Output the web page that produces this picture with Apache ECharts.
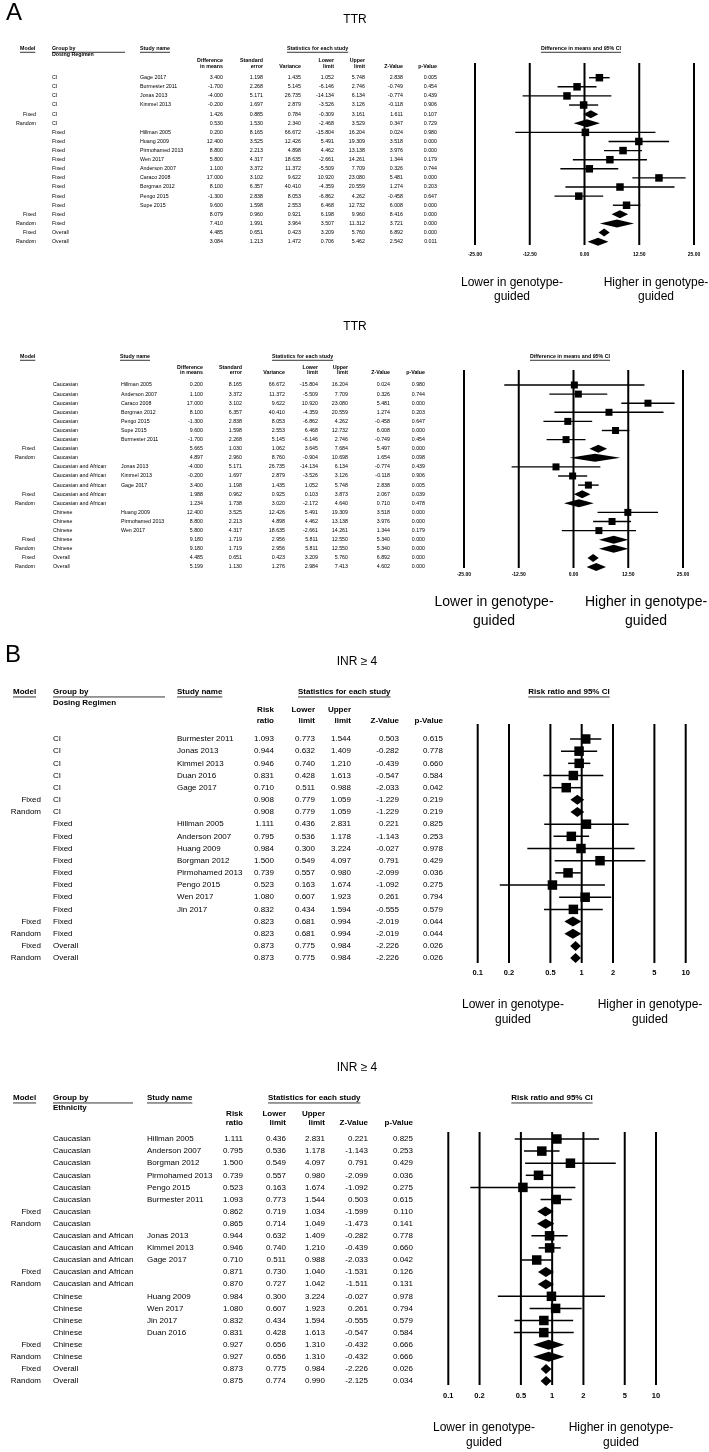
<!DOCTYPE html>
<html><head><meta charset="utf-8">
<script src="https://cdn.jsdelivr.net/npm/echarts@6/dist/echarts.min.js"></script>
<style>html,body{margin:0;padding:0;background:#fff}#c{width:709px;height:1452px}</style>
</head><body><div id="c"></div>
<script>
// ---------------- DATA ----------------
// Panel A, top: TTR grouped by dosing regimen
const ttrDoseModel = ['','','','','Fixed','Random','','','','','','','','','','Fixed','Random','Fixed','Random'];
const ttrDoseGroup = ['CI','CI','CI','CI','CI','CI','Fixed','Fixed','Fixed','Fixed','Fixed','Fixed','Fixed','Fixed','Fixed','Fixed','Fixed','Overall','Overall'];
const ttrDoseStudy = ['Gage 2017','Burmester 2011','Jonas 2013','Kimmel 2013','','','Hillman 2005','Huang 2009','Pirmohamed 2013','Wen 2017','Anderson 2007','Caraco 2008','Borgman 2012','Pengo 2015','Supe 2015','','','',''];
const ttrDoseDiff = [3.400,-1.700,-4.000,-0.200,1.426,0.530,0.200,12.400,8.800,5.800,1.100,17.000,8.100,-1.300,9.600,8.079,7.410,4.485,3.084];
const ttrDoseSE = [1.198,2.268,5.171,1.697,0.885,1.530,8.165,3.525,2.213,4.317,3.372,3.102,6.357,2.838,1.598,0.960,1.991,0.651,1.213];
const ttrDoseVar = [1.435,5.145,26.735,2.879,0.784,2.340,66.672,12.426,4.898,18.635,11.372,9.622,40.410,8.053,2.553,0.921,3.964,0.423,1.472];
const ttrDoseLower = [1.052,-6.146,-14.134,-3.526,-0.309,-2.468,-15.804,5.491,4.462,-2.661,-5.509,10.920,-4.359,-6.862,6.468,6.198,3.507,3.209,0.706];
const ttrDoseUpper = [5.748,2.746,6.134,3.126,3.161,3.529,16.204,19.309,13.138,14.261,7.709,23.080,20.559,4.262,12.732,9.960,11.312,5.760,5.462];
const ttrDoseZ = [2.838,-0.749,-0.774,-0.118,1.611,0.347,0.024,3.518,3.976,1.344,0.326,5.481,1.274,-0.458,6.008,8.416,3.721,6.892,2.542];
const ttrDoseP = [0.005,0.454,0.439,0.906,0.107,0.729,0.980,0.000,0.000,0.179,0.744,0.000,0.203,0.647,0.000,0.000,0.000,0.000,0.011];

// Panel A, bottom: TTR grouped by ethnicity
const ttrEthModel = ['','','','','','','','Fixed','Random','','','','Fixed','Random','','','','Fixed','Random','Fixed','Random'];
const ttrEthGroup = ['Caucasian','Caucasian','Caucasian','Caucasian','Caucasian','Caucasian','Caucasian','Caucasian','Caucasian','Caucasian and African','Caucasian and African','Caucasian and African','Caucasian and African','Caucasian and African','Chinese','Chinese','Chinese','Chinese','Chinese','Overall','Overall'];
const ttrEthStudy = ['Hillman 2005','Anderson 2007','Caraco 2008','Borgman 2012','Pengo 2015','Supe 2015','Burmester 2011','','','Jonas 2013','Kimmel 2013','Gage 2017','','','Huang 2009','Pirmohamed 2013','Wen 2017','','','',''];
const ttrEthDiff = [0.200,1.100,17.000,8.100,-1.300,9.600,-1.700,5.665,4.897,-4.000,-0.200,3.400,1.988,1.234,12.400,8.800,5.800,9.180,9.180,4.485,5.199];
const ttrEthSE = [8.165,3.372,3.102,6.357,2.838,1.598,2.268,1.030,2.960,5.171,1.697,1.198,0.962,1.738,3.525,2.213,4.317,1.719,1.719,0.651,1.130];
const ttrEthVar = [66.672,11.372,9.622,40.410,8.053,2.553,5.145,1.062,8.760,26.735,2.879,1.435,0.925,3.020,12.426,4.898,18.635,2.956,2.956,0.423,1.276];
const ttrEthLower = [-15.804,-5.509,10.920,-4.359,-6.862,6.468,-6.146,3.645,-0.904,-14.134,-3.526,1.052,0.103,-2.172,5.491,4.462,-2.661,5.811,5.811,3.209,2.984];
const ttrEthUpper = [16.204,7.709,23.080,20.559,4.262,12.732,2.746,7.684,10.698,6.134,3.126,5.748,3.873,4.640,19.309,13.138,14.261,12.550,12.550,5.760,7.413];
const ttrEthZ = [0.024,0.326,5.481,1.274,-0.458,6.008,-0.749,5.497,1.654,-0.774,-0.118,2.838,2.067,0.710,3.518,3.976,1.344,5.340,5.340,6.892,4.602];
const ttrEthP = [0.980,0.744,0.000,0.203,0.647,0.000,0.454,0.000,0.098,0.439,0.906,0.005,0.039,0.478,0.000,0.000,0.179,0.000,0.000,0.000,0.000];

// Panel B, top: INR >= 4 grouped by dosing regimen
const inrDoseModel = ['','','','','','Fixed','Random','','','','','','','','','Fixed','Random','Fixed','Random'];
const inrDoseGroup = ['CI','CI','CI','CI','CI','CI','CI','Fixed','Fixed','Fixed','Fixed','Fixed','Fixed','Fixed','Fixed','Fixed','Fixed','Overall','Overall'];
const inrDoseStudy = ['Burmester 2011','Jonas 2013','Kimmel 2013','Duan 2016','Gage 2017','','','Hillman 2005','Anderson 2007','Huang 2009','Borgman 2012','Pirmohamed 2013','Pengo 2015','Wen 2017','Jin 2017','','','',''];
const inrDoseRR = [1.093,0.944,0.946,0.831,0.710,0.908,0.908,1.111,0.795,0.984,1.500,0.739,0.523,1.080,0.832,0.823,0.823,0.873,0.873];
const inrDoseLower = [0.773,0.632,0.740,0.428,0.511,0.779,0.779,0.436,0.536,0.300,0.549,0.557,0.163,0.607,0.434,0.681,0.681,0.775,0.775];
const inrDoseUpper = [1.544,1.409,1.210,1.613,0.988,1.059,1.059,2.831,1.178,3.224,4.097,0.980,1.674,1.923,1.594,0.994,0.994,0.984,0.984];
const inrDoseZ = [0.503,-0.282,-0.439,-0.547,-2.033,-1.229,-1.229,0.221,-1.143,-0.027,0.791,-2.099,-1.092,0.261,-0.555,-2.019,-2.019,-2.226,-2.226];
const inrDoseP = [0.615,0.778,0.660,0.584,0.042,0.219,0.219,0.825,0.253,0.978,0.429,0.036,0.275,0.794,0.579,0.044,0.044,0.026,0.026];

// Panel B, bottom: INR >= 4 grouped by ethnicity
const inrEthModel = ['','','','','','','Fixed','Random','','','','Fixed','Random','','','','','Fixed','Random','Fixed','Random'];
const inrEthGroup = ['Caucasian','Caucasian','Caucasian','Caucasian','Caucasian','Caucasian','Caucasian','Caucasian','Caucasian and African','Caucasian and African','Caucasian and African','Caucasian and African','Caucasian and African','Chinese','Chinese','Chinese','Chinese','Chinese','Chinese','Overall','Overall'];
const inrEthStudy = ['Hillman 2005','Anderson 2007','Borgman 2012','Pirmohamed 2013','Pengo 2015','Burmester 2011','','','Jonas 2013','Kimmel 2013','Gage 2017','','','Huang 2009','Wen 2017','Jin 2017','Duan 2016','','','',''];
const inrEthRR = [1.111,0.795,1.500,0.739,0.523,1.093,0.862,0.865,0.944,0.946,0.710,0.871,0.870,0.984,1.080,0.832,0.831,0.927,0.927,0.873,0.875];
const inrEthLower = [0.436,0.536,0.549,0.557,0.163,0.773,0.719,0.714,0.632,0.740,0.511,0.730,0.727,0.300,0.607,0.434,0.428,0.656,0.656,0.775,0.774];
const inrEthUpper = [2.831,1.178,4.097,0.980,1.674,1.544,1.034,1.049,1.409,1.210,0.988,1.040,1.042,3.224,1.923,1.594,1.613,1.310,1.310,0.984,0.990];
const inrEthZ = [0.221,-1.143,0.791,-2.099,-1.092,0.503,-1.599,-1.473,-0.282,-0.439,-2.033,-1.531,-1.511,-0.027,0.261,-0.555,-0.547,-0.432,-0.432,-2.226,-2.125];
const inrEthP = [0.825,0.253,0.429,0.036,0.275,0.615,0.110,0.141,0.778,0.660,0.042,0.126,0.131,0.978,0.794,0.579,0.584,0.666,0.666,0.026,0.034];

// Axis tick labels
const ttrTicks = [-25, -12.5, 0, 12.5, 25];
const inrTicks = [0.1, 0.2, 0.5, 1, 2, 5, 10];

// Column headers
const ttrColHeads = [['Difference','in means'],['Standard','error'],['','Variance'],['Lower','limit'],['Upper','limit'],['','Z-Value'],['','p-Value']];
const inrColHeads = [['Risk','ratio'],['Lower','limit'],['Upper','limit'],['','Z-Value'],['','p-Value']];

// ---------------- LAYOUT ----------------
const FONT = '"Liberation Sans", Arial, Helvetica, sans-serif';

const panels = [
  { log:false, ticks:ttrTicks, ciHead:'Difference in means and 95% CI', colHeads:ttrColHeads, title:'TTR', letter:'A',
    groupHead:'Dosing Regimen', model:ttrDoseModel, group:ttrDoseGroup, study:ttrDoseStudy,
    point:ttrDoseDiff, lower:ttrDoseLower, upper:ttrDoseUpper,
    cols:[ttrDoseDiff, ttrDoseSE, ttrDoseVar, ttrDoseLower, ttrDoseUpper, ttrDoseZ, ttrDoseP],
    lay:{ x0:475, x1:694, lineTop:63, lineBottom:245, rowTop:77.7, rowStep:9.11, fs:5.3,
      modelR:36, groupL:52, studyL:140, colR:[223,263,301,334,365,403,437],
      hdrY:49, hdr2Y:55, sub1Y:61, sub2Y:67, modelHX:20, groupHX:52, groupUlEnd:125, studyHX:140, statsHX:287,
      ciHX:581, titleX:355, titleY:20, letterX:6, letterY:13,
      axFs:5, axMargin:7.5, sq:7.5, diaH:8, ciW:1.4, vW:2,
      noteLX:512, noteHX:656, noteY1:283, noteY2:297, noteFs:12 } },
  { log:false, ticks:ttrTicks, ciHead:'Difference in means and 95% CI', colHeads:ttrColHeads, title:'TTR',
    groupHead:null, model:ttrEthModel, group:ttrEthGroup, study:ttrEthStudy,
    point:ttrEthDiff, lower:ttrEthLower, upper:ttrEthUpper,
    cols:[ttrEthDiff, ttrEthSE, ttrEthVar, ttrEthLower, ttrEthUpper, ttrEthZ, ttrEthP],
    lay:{ x0:464, x1:683, lineTop:370, lineBottom:568, rowTop:385, rowStep:9.1, fs:5.3,
      modelR:35, groupL:53, studyL:121, colR:[203,242,285,318,348,390,425],
      hdrY:357, sub1Y:367.5, sub2Y:373, modelHX:20, studyHX:120, statsHX:272,
      ciHX:570, titleX:355, titleY:327,
      axFs:5, axMargin:4.5, sq:7, diaH:8, ciW:1.4, vW:2,
      noteLX:494, noteHX:646, noteY1:602, noteY2:621, noteFs:14 } },
  { log:true, ticks:inrTicks, ciHead:'Risk ratio and 95% CI', colHeads:inrColHeads, title:'INR \u2265 4', letter:'B',
    groupHead:'Dosing Regimen', model:inrDoseModel, group:inrDoseGroup, study:inrDoseStudy,
    point:inrDoseRR, lower:inrDoseLower, upper:inrDoseUpper,
    cols:[inrDoseRR, inrDoseLower, inrDoseUpper, inrDoseZ, inrDoseP],
    lay:{ x0:477.7, x1:685.7, lineTop:724, lineBottom:963, rowTop:739, rowStep:12.17, fs:8,
      modelR:41, groupL:53, studyL:177, colR:[274,315,351,399,443],
      hdrY:692, hdr2Y:703, sub1Y:710, sub2Y:721, modelHX:13, groupHX:53, groupUlEnd:165, studyHX:177, statsHX:298,
      ciHX:569, titleX:357, titleY:662, letterX:5, letterY:655,
      axFs:7.5, axMargin:6, sq:9.5, diaH:10, ciW:1.5, vW:2,
      noteLX:513, noteHX:650, noteY1:1005, noteY2:1020, noteFs:12 } },
  { log:true, ticks:inrTicks, ciHead:'Risk ratio and 95% CI', colHeads:inrColHeads, title:'INR \u2265 4',
    groupHead:'Ethnicity', model:inrEthModel, group:inrEthGroup, study:inrEthStudy,
    point:inrEthRR, lower:inrEthLower, upper:inrEthUpper,
    cols:[inrEthRR, inrEthLower, inrEthUpper, inrEthZ, inrEthP],
    lay:{ x0:448.3, x1:656, lineTop:1132, lineBottom:1385, rowTop:1139, rowStep:12.1, fs:8,
      modelR:41, groupL:53, studyL:147, colR:[243,286,325,368,413],
      hdrY:1098, hdr2Y:1108, sub1Y:1114, sub2Y:1123, modelHX:13, groupHX:53, groupUlEnd:133, studyHX:147, statsHX:268,
      ciHX:552, titleX:357, titleY:1068,
      axFs:7.5, axMargin:7, sq:9.5, diaH:10, ciW:1.5, vW:2,
      noteLX:484, noteHX:621, noteY1:1428, noteY2:1443, noteFs:12 } }
];

// ---------------- BUILD ----------------
const mctx = document.createElement('canvas').getContext('2d');
function tw(t, fs, bold) { mctx.font = (bold ? 'bold ' : '') + fs + 'px ' + FONT; return mctx.measureText(t).width; }

function txtStyle(text, fs, bold, align) {
  return { text: text, fill: '#000', fontSize: fs, fontFamily: FONT, fontWeight: bold ? 'bold' : 'normal',
    align: align, verticalAlign: 'middle', textAlign: align, textVerticalAlign: 'middle' };
}
function gText(text, x, y, fs, bold, align) {
  return { type: 'text', x: x, y: y, silent: true, z: 10, style: txtStyle(text, fs, bold, align || 'left') };
}
function gLine(x1, y1, x2, y2, w) {
  return { type: 'line', silent: true, z: 10, shape: { x1: x1, y1: y1, x2: x2, y2: y2 }, style: { stroke: '#000', lineWidth: w || 0.8 } };
}

const grids = [], xAxes = [], yAxes = [], series = [], graphics = [];

panels.forEach(function (p, k) {
  const L = p.lay;
  const n = p.point.length;
  const yMin = (L.lineTop - L.rowTop) / L.rowStep;
  const yMax = (L.lineBottom - L.rowTop) / L.rowStep;
  const xRef = p.log ? 1 : 0;

  grids.push({ left: L.x0, width: L.x1 - L.x0, top: L.lineTop, height: L.lineBottom - L.lineTop,
    containLabel: false, outerBoundsMode: 'none', show: false });
  const xa = {
    gridIndex: k, type: p.log ? 'log' : 'value', min: p.ticks[0], max: p.ticks[p.ticks.length - 1],
    axisLine: { show: false, onZero: false }, axisTick: { show: false, customValues: p.ticks },
    splitLine: { show: false },
    axisLabel: { customValues: p.ticks, fontSize: L.axFs, fontWeight: 'bold', fontFamily: FONT, color: '#000',
      margin: L.axMargin, showMinLabel: true, showMaxLabel: true,
      formatter: function (v) { return p.log ? String(+Number(v).toPrecision(3)) : Number(v).toFixed(2); } }
  };
  if (p.log) { xa.logBase = 10; } else { xa.interval = 12.5; }
  xAxes.push(xa);
  yAxes.push({ gridIndex: k, type: 'value', inverse: true, min: yMin, max: yMax, show: false });

  // vertical reference lines at each tick
  series.push({
    type: 'custom', xAxisIndex: k, yAxisIndex: k, silent: true, animation: false, clip: false, z: 2,
    data: p.ticks.map(function (v) { return [v, 0]; }), encode: { x: 0, y: 1 },
    renderItem: function (params, api) {
      const cs = params.coordSys;
      const x = api.coord([api.value(0), 0])[0];
      return { type: 'line', shape: { x1: x, y1: cs.y, x2: x, y2: cs.y + cs.height },
        style: { stroke: '#000', lineWidth: L.vW } };
    }
  });

  // squares, CI whiskers, diamonds
  const md = [];
  for (let i = 0; i < n; i++) md.push([p.point[i], p.lower[i], p.upper[i], i, p.study[i] === '' ? 1 : 0]);
  series.push({
    type: 'custom', xAxisIndex: k, yAxisIndex: k, silent: true, animation: false, clip: false, z: 3,
    data: md, encode: { x: [0, 1, 2], y: 3 },
    renderItem: function (params, api) {
      const i = api.value(3);
      const pt = api.coord([api.value(0), i]);
      const lo = api.coord([api.value(1), i]);
      const hi = api.coord([api.value(2), i]);
      const y = pt[1];
      if (api.value(4)) {
        const h = L.diaH / 2;
        return { type: 'polygon', shape: { points: [[lo[0], y], [pt[0], y - h], [hi[0], y], [pt[0], y + h]] },
          style: { fill: '#000' } };
      }
      const s = L.sq;
      return { type: 'group', children: [
        { type: 'line', shape: { x1: lo[0], y1: y, x2: hi[0], y2: y }, style: { stroke: '#000', lineWidth: L.ciW } },
        { type: 'rect', shape: { x: pt[0] - s / 2, y: y - s / 2, width: s, height: s }, style: { fill: '#000' } }
      ] };
    }
  });

  // table text, rows aligned with the plot rows
  const td = [];
  for (let i = 0; i < n; i++) td.push([xRef, i]);
  series.push({
    type: 'custom', xAxisIndex: k, yAxisIndex: k, silent: true, animation: false, clip: false, z: 4,
    data: td, encode: { x: 0, y: 1 },
    renderItem: function (params, api) {
      const i = params.dataIndex;
      const y = api.coord([xRef, i])[1];
      const kids = [];
      const add = function (t, x, align) { if (t !== '') kids.push({ type: 'text', x: x, y: y, style: txtStyle(t, L.fs, false, align) }); };
      add(p.model[i], L.modelR, 'right');
      add(p.group[i], L.groupL, 'left');
      add(p.study[i], L.studyL, 'left');
      p.cols.forEach(function (c, j) { add(c[i].toFixed(3), L.colR[j], 'right'); });
      return { type: 'group', children: kids };
    }
  });

  // headers
  const hf = L.fs;
  const ulOff = hf * 0.62;
  graphics.push(gText(p.title, L.titleX, L.titleY, 12, false, 'center'));
  if (p.letter) graphics.push(gText(p.letter, L.letterX, L.letterY, 24, false, 'left'));
  graphics.push(gText('Model', L.modelHX, L.hdrY, hf, true));
  graphics.push(gLine(L.modelHX, L.hdrY + ulOff, L.modelHX + tw('Model', hf, true), L.hdrY + ulOff));
  if (p.groupHead) {
    graphics.push(gText('Group by', L.groupHX, L.hdrY, hf, true));
    graphics.push(gLine(L.groupHX, L.hdrY + ulOff, L.groupUlEnd, L.hdrY + ulOff));
    graphics.push(gText(p.groupHead, L.groupHX, L.hdr2Y, hf, true));
  }
  graphics.push(gText('Study name', L.studyHX, L.hdrY, hf, true));
  graphics.push(gLine(L.studyHX, L.hdrY + ulOff, L.studyHX + tw('Study name', hf, true), L.hdrY + ulOff));
  const st = 'Statistics for each study';
  graphics.push(gText(st, L.statsHX, L.hdrY, hf, true));
  graphics.push(gLine(L.statsHX, L.hdrY + ulOff, L.statsHX + tw(st, hf, true), L.hdrY + ulOff));
  p.colHeads.forEach(function (h, j) {
    if (h[0]) graphics.push(gText(h[0], L.colR[j], L.sub1Y, hf, true, 'right'));
    graphics.push(gText(h[1], L.colR[j], L.sub2Y, hf, true, 'right'));
  });
  const cw = tw(p.ciHead, hf, true);
  graphics.push(gText(p.ciHead, L.ciHX, L.hdrY, hf, true, 'center'));
  graphics.push(gLine(L.ciHX - cw / 2, L.hdrY + ulOff, L.ciHX + cw / 2, L.hdrY + ulOff));

  // direction notes
  graphics.push(gText('Lower in genotype-', L.noteLX, L.noteY1, L.noteFs, false, 'center'));
  graphics.push(gText('guided', L.noteLX, L.noteY2, L.noteFs, false, 'center'));
  graphics.push(gText('Higher in genotype-', L.noteHX, L.noteY1, L.noteFs, false, 'center'));
  graphics.push(gText('guided', L.noteHX, L.noteY2, L.noteFs, false, 'center'));
});

const chart = echarts.init(document.getElementById('c'), null, { renderer: 'canvas', width: 709, height: 1452 });
chart.setOption({
  backgroundColor: '#ffffff',
  animation: false,
  textStyle: { fontFamily: FONT },
  grid: grids, xAxis: xAxes, yAxis: yAxes, series: series,
  graphic: { elements: graphics }
});
</script>
</body></html>
